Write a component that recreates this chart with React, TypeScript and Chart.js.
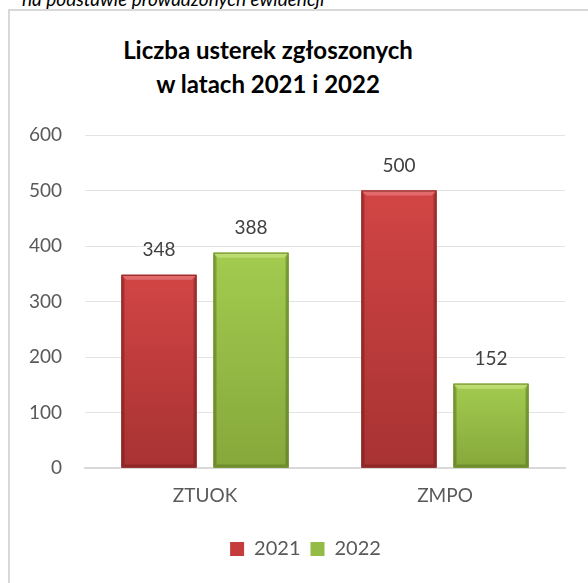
import React, { useEffect, useRef } from "react";
import { Chart, registerables } from "chart.js";

Chart.register(...registerables);

const caption = "na podstawie prowadzonych ewidencji";
const titleLines = ["Liczba usterek zgłoszonych", "w latach 2021 i 2022"];
const categories = ["ZTUOK", "ZMPO"];
const seriesNames = ["2021", "2022"];
const values2021 = [348, 500];
const values2022 = [388, 152];
const yMin = 0;
const yMax = 600;
const yStep = 100;

const palettes = [
  { base: "#c43c3c", top: "#d24545", bottom: "#a83232", light: "#e36a6a", dark: "#8e2828", edge: "rgba(90,20,20,0.35)" },
  { base: "#93bb46", top: "#a3cb4f", bottom: "#86a83b", light: "#bcdc72", dark: "#6f8e2e", edge: "rgba(60,80,20,0.35)" },
];

const FONT = "Lato, 'Open Sans', sans-serif";

const bevelPlugin = {
  id: "bevelBars",
  afterDatasetsDraw(chart: any) {
    const ctx = chart.ctx;
    chart.data.datasets.forEach((_ds: any, di: number) => {
      const meta = chart.getDatasetMeta(di);
      const pal = palettes[di];
      meta.data.forEach((bar: any) => {
        const { x, y, base, width } = bar.getProps(["x", "y", "base", "width"], true);
        const l = x - width / 2;
        const r = x + width / 2;
        const t = y;
        const b = base;
        ctx.save();
        const g = ctx.createLinearGradient(0, t, 0, b);
        g.addColorStop(0, pal.top);
        g.addColorStop(1, pal.bottom);
        ctx.fillStyle = g;
        ctx.fillRect(l, t, width, b - t);
        const bv = 5;
        const sv = 3;
        ctx.fillStyle = pal.light;
        ctx.beginPath();
        ctx.moveTo(l, t);
        ctx.lineTo(r, t);
        ctx.lineTo(r - bv, t + bv);
        ctx.lineTo(l + bv, t + bv);
        ctx.closePath();
        ctx.fill();
        ctx.fillStyle = pal.edge;
        ctx.beginPath();
        ctx.moveTo(l, t);
        ctx.lineTo(l + sv, t + bv);
        ctx.lineTo(l + sv, b - sv);
        ctx.lineTo(l, b);
        ctx.closePath();
        ctx.fill();
        ctx.beginPath();
        ctx.moveTo(r, t);
        ctx.lineTo(r - sv, t + bv);
        ctx.lineTo(r - sv, b - sv);
        ctx.lineTo(r, b);
        ctx.closePath();
        ctx.fill();
        ctx.fillStyle = pal.dark;
        ctx.beginPath();
        ctx.moveTo(l, b);
        ctx.lineTo(r, b);
        ctx.lineTo(r - sv, b - sv);
        ctx.lineTo(l + sv, b - sv);
        ctx.closePath();
        ctx.fill();
        ctx.strokeStyle = pal.dark;
        ctx.lineWidth = 1;
        ctx.strokeRect(l + 0.5, t + 0.5, width - 1, b - t - 1);
        ctx.restore();
      });
    });
  },
};

const valueLabelPlugin = {
  id: "valueLabels",
  afterDatasetsDraw(chart: any) {
    const ctx = chart.ctx;
    ctx.save();
    ctx.font = `19px ${FONT}`;
    ctx.fillStyle = "#404040";
    ctx.textAlign = "center";
    ctx.textBaseline = "middle";
    chart.data.datasets.forEach((ds: any, di: number) => {
      const meta = chart.getDatasetMeta(di);
      meta.data.forEach((bar: any, i: number) => {
        const { x, y } = bar.getProps(["x", "y"], true);
        ctx.fillText(String(ds.data[i]), x, y - 25);
      });
    });
    ctx.restore();
  },
};

// shifts the legend block to the right so it sits where the reference has it
const legendShiftPlugin = {
  id: "legendShift",
  afterLayout(chart: any) {
    const lg = chart.legend;
    if (lg) {
      lg.left += 18;
      lg.right += 18;
    }
  },
};

export default function App() {
  const ref = useRef<HTMLCanvasElement | null>(null);

  useEffect(() => {
    if (!ref.current) return;
    const chart = new Chart(ref.current, {
      type: "bar",
      data: {
        labels: categories,
        datasets: [
          { label: seriesNames[0], data: values2021, backgroundColor: palettes[0].base, borderWidth: 0 },
          { label: seriesNames[1], data: values2022, backgroundColor: palettes[1].base, borderWidth: 0 },
        ],
      },
      options: {
        responsive: false,
        animation: false,
        devicePixelRatio: 1,
        layout: { padding: { left: 0, right: 23, top: 124, bottom: 14 } },
        datasets: { bar: { categoryPercentage: 0.767, barPercentage: 0.815 } },
        plugins: {
          title: { display: false },
          tooltip: { enabled: false },
          legend: {
            position: "bottom",
            labels: {
              boxWidth: 14,
              boxHeight: 14,
              color: "#595959",
              font: { family: FONT, size: 20 },
              padding: 10,
            },
          },
        },
        scales: {
          x: {
            grid: { display: false, drawTicks: false },
            border: { display: true, color: "#d9d9d9", width: 2 },
            ticks: { color: "#595959", font: { family: FONT, size: 19 }, padding: 16 },
            afterFit: (scale: any) => {
              scale.height = 61;
            },
          },
          y: {
            min: yMin,
            max: yMax,
            ticks: { stepSize: yStep, color: "#595959", font: { family: FONT, size: 19 }, padding: 23 },
            grid: { color: "#e3e3e3", drawTicks: false },
            border: { display: false },
            afterFit: (scale: any) => {
              scale.width = 75;
            },
          },
        },
      },
      plugins: [bevelPlugin, valueLabelPlugin, legendShiftPlugin],
    });
    return () => chart.destroy();
  }, []);

  return (
    <div style={{ position: "fixed", left: 0, top: 0, width: 588, height: 583, overflow: "hidden", background: "#ffffff" }}>
      <div
        style={{
          position: "absolute",
          left: 22,
          top: -11,
          font: `italic 19px ${FONT}`,
          lineHeight: "19px",
          whiteSpace: "nowrap",
          color: "#000",
        }}
      >
        {caption}
      </div>
      <div
        style={{
          position: "absolute",
          left: 8,
          top: 9,
          width: 640,
          height: 640,
          border: "2px solid #d9d9d9",
          boxSizing: "border-box",
        }}
      />
      <div
        style={{
          position: "absolute",
          left: 0,
          top: 33,
          width: 536,
          textAlign: "center",
          font: `bold 24px ${FONT}`,
          lineHeight: "34px",
          color: "#000",
        }}
      >
        {titleLines.map((t) => (
          <div key={t}>{t}</div>
        ))}
      </div>
      <canvas
        ref={ref}
        width={578}
        height={572}
        style={{ position: "absolute", left: 10, top: 11, width: 578, height: 572 }}
      />
    </div>
  );
}
